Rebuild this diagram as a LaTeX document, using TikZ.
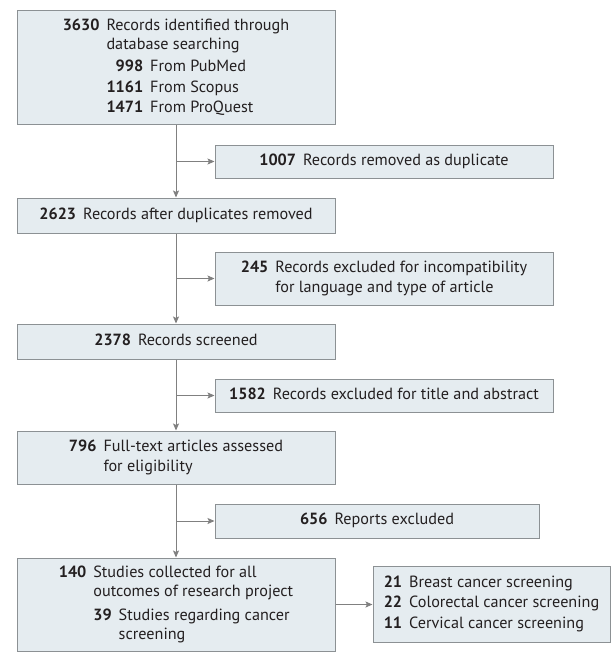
\documentclass[tikz,border=0pt]{standalone}
\usepackage{fontspec}
\setmainfont{PT Sans}
\usetikzlibrary{arrows.meta}
\definecolor{boxfill}{RGB}{229,236,240}
\definecolor{boxdraw}{RGB}{140,145,148}
\definecolor{linecol}{RGB}{128,128,128}
\definecolor{txt}{RGB}{35,31,32}
\newcommand{\numtab}[1]{\begin{tabular}{@{}r@{\hspace{7pt}}l@{}}#1\end{tabular}}
\newcommand{\subtab}[1]{\begin{tabular}[t]{@{}r@{\hspace{7pt}}l@{}}#1\end{tabular}}
\begin{document}
\begin{tikzpicture}[x=1pt,y=-1pt,
  box/.style={draw=boxdraw, fill=boxfill, line width=1pt, inner sep=0pt, text=txt,
    font=\fontsize{16.2}{19}\selectfont, align=center},
  conn/.style={draw=linecol, line width=1pt, -{Stealth[length=7pt,width=6pt,inset=1.5pt]}}]
\useasboundingbox (0,0) rectangle (611,666);

\node[box, minimum width=318pt, minimum height=114pt] (b1) at (176,68)
  {\numtab{\textbf{3630} & Records identified through\\
     & database searching\\[3pt]
     & \subtab{\textbf{998} & From PubMed\\[1.5pt] \textbf{1161} & From Scopus\\[1.5pt] \textbf{1471} & From ProQuest}}};
\node[box, minimum width=338pt, minimum height=33pt] (r1) at (384,161.5)
  {\numtab{\textbf{1007} & Records removed as duplicate}};
\node[box, minimum width=318pt, minimum height=35pt] (b2) at (176,215.5)
  {\numtab{\textbf{2623} & Records after duplicates removed}};
\node[box, minimum width=338pt, minimum height=53pt] (r2) at (384,278.5)
  {\numtab{\textbf{245} & Records excluded for incompatibility\\[0.5pt] & for language and type of article}};
\node[box, minimum width=318pt, minimum height=35pt] (b3) at (176,341.5)
  {\numtab{\textbf{2378} & Records screened}};
\node[box, minimum width=338pt, minimum height=33pt] (r3) at (384,395.5)
  {\numtab{\textbf{1582} & Records excluded for title and abstract}};
\node[box, minimum width=318pt, minimum height=53pt] (b4) at (176,457.5)
  {\numtab{\textbf{796} & Full-text articles assessed\\[0.5pt] & for eligibility}};
\node[box, minimum width=324pt, minimum height=34pt] (r4) at (377,521)
  {\numtab{\textbf{656} & Reports excluded}};
\node[box, minimum width=318pt, minimum height=93pt] (b5) at (176,604.5)
  {\numtab{\textbf{140} & Studies collected for all\\
     & outcomes of research project\\[5pt]
     & \subtab{\textbf{39} & Studies regarding cancer\\ & screening}}};
\node[box, minimum width=237pt, minimum height=76pt] (r5) at (491.5,604)
  {\numtab{\textbf{21} & Breast cancer screening\\[1.5pt]
     \textbf{22} & Colorectal cancer screening\\[1.5pt]
     \textbf{11} & Cervical cancer screening}};

\draw[conn] (b1.south) -- (b2.north);
\draw[conn] (b2.south) -- (b3.north);
\draw[conn] (b3.south) -- (b4.north);
\draw[conn] (b4.south) -- (b5.north);
\coordinate (j1) at (b1.south |- r1.west);
\coordinate (j2) at (b2.south |- r2.west);
\coordinate (j3) at (b3.south |- r3.west);
\coordinate (j4) at (b4.south |- r4.west);
\draw[conn] (j1) -- (r1.west);
\draw[conn] (j2) -- (r2.west);
\draw[conn] (j3) -- (r3.west);
\draw[conn] (j4) -- (r4.west);
\draw[conn] (b5.east) -- (b5.east -| r5.west);
\end{tikzpicture}
\end{document}
